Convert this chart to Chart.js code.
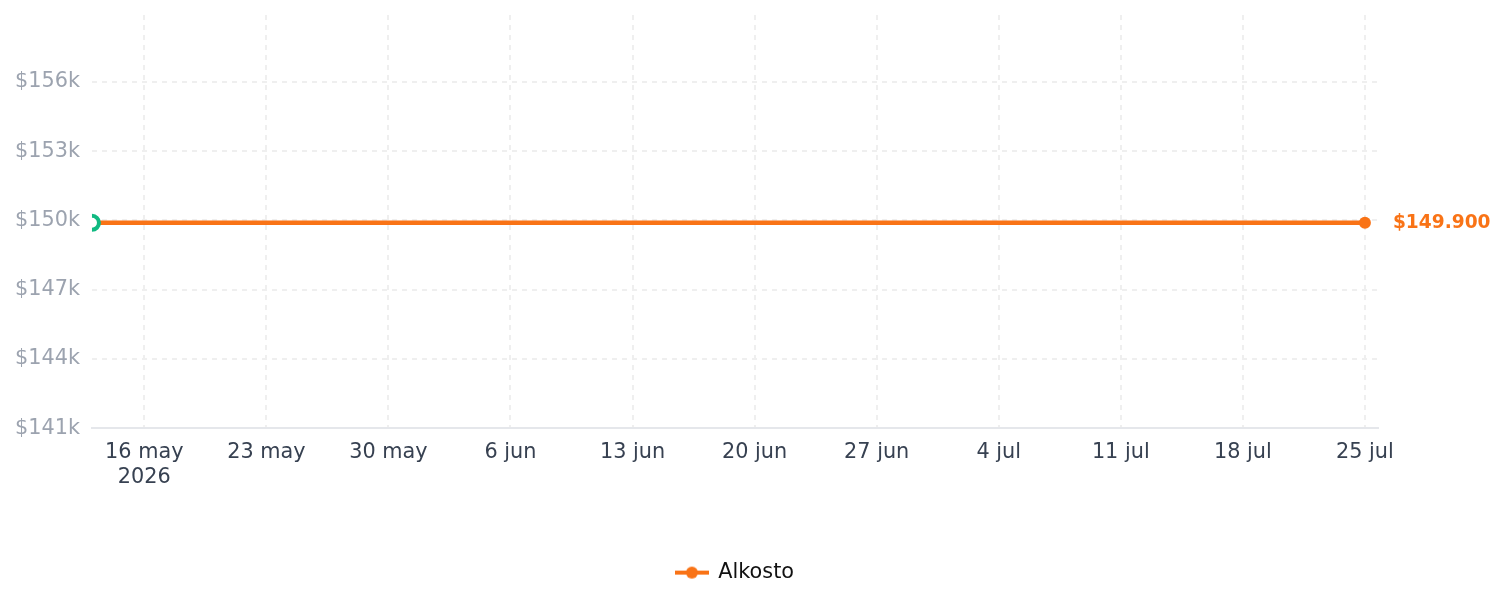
<!DOCTYPE html>
<html>
<head>
<meta charset="utf-8">
<script src="https://cdn.jsdelivr.net/npm/chart.js@4.4.1/dist/chart.umd.min.js"></script>
<style>
  html, body { margin: 0; padding: 0; background: #ffffff; }
  #wrap { position: relative; width: 1505px; height: 607px; }
</style>
</head>
<body>
<div id="wrap"><canvas id="c" width="1505" height="607"></canvas></div>
<script>
// ---- data ----
const seriesName = 'Alkosto';
const seriesDates = ['2026-05-13', '2026-07-25'];
const seriesValues = [149900, 149900];
const markerDates = ['2026-05-13'];
const markerValues = [149900];
const xTickDates = ['2026-05-16','2026-05-23','2026-05-30','2026-06-06','2026-06-13','2026-06-20','2026-06-27','2026-07-04','2026-07-11','2026-07-18','2026-07-25'];
const xTickLabels = [['16 may','2026'],'23 may','30 may','6 jun','13 jun','20 jun','27 jun','4 jul','11 jul','18 jul','25 jul'];
const yTicks = [141000, 144000, 147000, 150000, 153000, 156000];
const yLabels = ['$141k','$144k','$147k','$150k','$153k','$156k'];
const endLabel = '$149.900';
const xMinDate = '2026-05-13';
const xMaxDate = '2026-07-25T18:00:00';
const yMin = 141000, yMax = 158900;

const DAY = 86400000;
const ref = Date.UTC(2026, 4, 16);
function dayNum(s) {
  const p = s.split('T');
  const d = p[0].split('-').map(Number);
  let h = 0;
  if (p[1]) h = Number(p[1].split(':')[0]);
  return (Date.UTC(d[0], d[1]-1, d[2], h) - ref) / DAY;
}

const ORANGE = '#f97316';
const GREEN = '#10b981';
const FONT = "'DejaVu Sans', sans-serif";
const GRID = '#efefef';

// legend icon: line with dot
const icon = document.createElement('canvas');
icon.width = 34; icon.height = 14;
(function(){
  const g = icon.getContext('2d');
  g.strokeStyle = ORANGE; g.lineWidth = 4;
  g.beginPath(); g.moveTo(0, 7); g.lineTo(34, 7); g.stroke();
  g.fillStyle = ORANGE;
  g.beginPath(); g.arc(17, 7, 6, 0, Math.PI*2); g.fill();
})();

const endLabelPlugin = {
  id: 'endLabel',
  afterDatasetsDraw(chart) {
    const meta = chart.getDatasetMeta(0);
    const pt = meta.data[meta.data.length - 1];
    if (!pt) return;
    const ctx = chart.ctx;
    ctx.save();
    ctx.font = "bold 18.6px " + FONT;
    ctx.fillStyle = ORANGE;
    ctx.textAlign = 'left';
    ctx.textBaseline = 'middle';
    ctx.fillText(endLabel, pt.x + 28, pt.y);
    ctx.restore();
  }
};

const xTickVals = xTickDates.map(dayNum);

new Chart(document.getElementById('c'), {
  type: 'line',
  data: {
    datasets: [
      {
        label: seriesName,
        data: seriesDates.map((d, i) => ({ x: dayNum(d), y: seriesValues[i] })),
        borderColor: ORANGE,
        backgroundColor: ORANGE,
        borderWidth: 4.5,
        pointRadius: ctx => ctx.dataIndex === seriesValues.length - 1 ? 6 : 0,
        pointBorderWidth: 0,
        pointBackgroundColor: ORANGE,
        tension: 0,
        fill: false,
        order: 2
      },
      {
        label: 'marker',
        data: markerDates.map((d, i) => ({ x: dayNum(d), y: markerValues[i] })),
        showLine: false,
        pointRadius: 7,
        pointBorderWidth: 4,
        pointBorderColor: GREEN,
        pointBackgroundColor: '#ffffff',
        clip: 0,
        order: 1
      }
    ]
  },
  options: {
    responsive: false,
    animation: false,
    layout: { padding: { top: 15, right: 127, left: 3, bottom: 14 } },
    plugins: {
      tooltip: { enabled: false },
      legend: {
        position: 'bottom',
        fullSize: false,
        labels: {
          filter: item => item.datasetIndex === 0,
          usePointStyle: true,
          pointStyle: icon,
          pointStyleWidth: 32,
          color: '#111111',
          padding: 24,
          font: { family: FONT, size: 20.8 }
        }
      }
    },
    scales: {
      x: {
        type: 'linear',
        min: dayNum(xMinDate),
        max: dayNum(xMaxDate),
        afterBuildTicks: axis => { axis.ticks = xTickVals.map(v => ({ value: v })); },
        afterFit: axis => { axis.height += 36; },
        ticks: {
          autoSkip: false,
          maxRotation: 0,
          padding: 12,
          color: '#374151',
          font: { family: FONT, size: 20.8 },
          callback: (v) => { const i = xTickVals.indexOf(v); return i >= 0 ? xTickLabels[i] : ''; }
        },
        grid: { color: GRID, lineWidth: 2, drawTicks: false },
        border: { display: true, color: '#e5e7eb', width: 2, dash: [5, 5] }
      },
      y: {
        min: yMin,
        max: yMax,
        afterBuildTicks: axis => { axis.ticks = yTicks.map(v => ({ value: v })); },
        afterFit: axis => { axis.paddingTop = 0; axis.paddingBottom = 0; },
        ticks: {
          padding: 12,
          color: '#9ca3af',
          font: { family: FONT, size: 20.8 },
          callback: (v) => { const i = yTicks.indexOf(v); return i >= 0 ? yLabels[i] : ''; }
        },
        grid: { color: GRID, lineWidth: 2, drawTicks: false },
        border: { display: false, dash: [5, 5] }
      }
    }
  },
  plugins: [endLabelPlugin]
});
</script>
</body>
</html>
